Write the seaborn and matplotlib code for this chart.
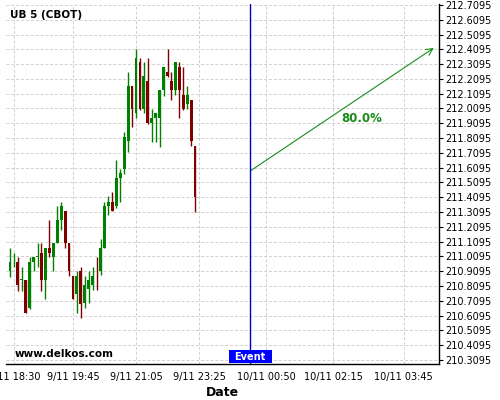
import numpy as np
import matplotlib
matplotlib.use("Agg")
import matplotlib.pyplot as plt
import matplotlib.transforms as mtransforms
from matplotlib.patches import Rectangle
import seaborn as sns

# 5 minute bars
opens = [210.913, 210.976, 210.972, 210.853, 210.850, 210.661, 210.972, 211.006,
         211.033, 210.853, 211.067, 211.008, 211.100, 211.256, 211.317, 211.100,
         210.877, 210.758, 210.911, 210.692, 210.787, 210.816, 210.920, 210.913,
         211.067, 211.350, 211.378, 211.350, 211.542, 211.601, 211.792, 212.162,
         211.982, 212.324, 212.009, 212.196, 211.914, 211.948, 211.948, 212.135,
         212.256, 212.196, 212.135, 212.290, 212.101, 212.042, 212.067, 211.756]
highs = [211.064, 211.035, 211.003, 210.940, 210.850, 211.003, 211.003, 211.098,
         211.098, 211.067, 211.256, 211.100, 211.350, 211.378, 211.317, 211.100,
         210.877, 210.911, 210.940, 210.877, 210.911, 210.940, 211.003, 211.125,
         211.378, 211.418, 211.445, 211.661, 211.598, 211.853, 212.259, 212.162,
         212.410, 212.349, 212.324, 212.349, 212.004, 211.979, 212.135, 212.290,
         212.410, 212.256, 212.324, 212.324, 212.290, 212.162, 212.067, 211.756]
lows = [210.873, 210.936, 210.778, 210.778, 210.625, 210.657, 210.913, 210.940,
        210.778, 210.719, 211.003, 210.911, 211.098, 211.188, 211.064, 210.877,
        210.719, 210.625, 210.591, 210.659, 210.692, 210.783, 210.783, 210.884,
        211.064, 211.290, 211.317, 211.340, 211.380, 211.567, 211.718, 211.882,
        211.943, 212.000, 211.977, 211.905, 211.786, 211.786, 211.752, 212.097,
        212.225, 212.067, 212.101, 211.943, 212.000, 212.009, 211.756, 211.312]
closes = [210.974, 210.981, 210.816, 210.857, 210.629, 210.972, 211.003, 211.010,
          210.853, 211.067, 211.033, 211.100, 211.256, 211.350, 211.100, 210.913,
          210.724, 210.877, 210.690, 210.816, 210.850, 210.877, 210.916, 211.067,
          211.350, 211.378, 211.317, 211.538, 211.571, 211.819, 212.162, 212.009,
          212.351, 212.009, 212.230, 211.912, 211.948, 211.979, 212.135, 212.290,
          212.230, 212.135, 212.324, 212.135, 212.009, 212.101, 211.792, 211.414]

tick_pos = [1, 16, 32, 48, 65, 82, 100]
tick_labels = ["9/11 18:30", "9/11 19:45", "9/11 21:05", "9/11 23:25",
               "10/11 00:50", "10/11 02:15", "10/11 03:45"]

event_idx = 61
arrow_start = (61, 211.587)
arrow_end = (107.6, 212.419)
prob_text = "80.0%"

sns.set_style("white")
plt.rcParams['font.family'] = ['DejaVu Sans']
plt.rcParams['text.color'] = 'black'
plt.rcParams['axes.labelcolor'] = 'black'
plt.rcParams['xtick.color'] = 'black'
plt.rcParams['ytick.color'] = 'black'

fig = plt.figure(figsize=(5, 4), dpi=100)
ax = fig.add_axes([0.012, 0.09, 0.8666, 0.90])

idx = np.arange(len(opens))
o = np.array(opens); c = np.array(closes)
up = c >= o
cols = np.where(up, "#008000", "#800000")

ax.vlines(idx, lows, highs, colors=cols, linewidth=1, zorder=3)
body = np.maximum(np.abs(c - o), 0.004)
ax.bar(idx, body, bottom=np.minimum(o, c), width=0.72, color=cols,
       linewidth=0, zorder=4)

# grid
yt = np.round(210.3095 + 0.1 * np.arange(25), 4)
ax.set_yticks(yt)
ax.set_yticklabels(["%.4f" % v for v in yt])
ax.set_xticks(tick_pos)
ax.set_xticklabels(tick_labels)
minor = []
for a, b in zip(tick_pos[:-1], tick_pos[1:]):
    minor += list(np.linspace(a, b, 5)[1:-1])
ax.set_xticks(minor, minor=True)
ax.grid(True, which="major", color="#d0d0d0", linestyle=(0, (3, 2)), linewidth=0.7)
ax.set_axisbelow(True)

ax.set_xlim(-1, 109)
ax.set_ylim(210.282, 212.716)

ax.yaxis.tick_right()
ax.tick_params(axis="y", labelsize=7, length=3, width=0.8, pad=1)
ax.tick_params(axis="x", which="major", labelsize=7, length=4, width=0.8, pad=2)
ax.tick_params(axis="x", which="minor", length=2, width=0.6)
for s in ["left", "top"]:
    ax.spines[s].set_visible(False)
for s in ["bottom", "right"]:
    ax.spines[s].set_color("black")
    ax.spines[s].set_linewidth(1)

ax.set_xlabel("Date", fontsize=9, fontweight="bold", labelpad=3)

# event marker
ax.axvline(event_idx, color="#0000cc", linewidth=1, zorder=5)
trans = mtransforms.blended_transform_factory(ax.transData, ax.transAxes)
ax.add_patch(Rectangle((event_idx - 5.45, 0.002), 10.9, 0.037, transform=trans,
                       facecolor="#0000ff", edgecolor="none", zorder=6))
ax.text(event_idx, 0.02, "Event", transform=trans, ha="center", va="center",
        color="white", fontsize=7, fontweight="bold", zorder=7)

# forecast arrow
ax.annotate("", xy=arrow_end, xytext=arrow_start,
            arrowprops=dict(arrowstyle="->", color="#1a8c1a", lw=0.8,
                            mutation_scale=12, shrinkA=0, shrinkB=0))
ax.text(89.3, 211.945, prob_text, color="#1a8c1a", fontsize=8.5,
        fontweight="bold", ha="center", va="center")

ax.text(0.009, 0.969, "UB 5 (CBOT)", transform=ax.transAxes, fontsize=7.5,
        fontweight="bold", va="center", ha="left")
ax.text(0.021, 0.028, "www.delkos.com", transform=ax.transAxes, fontsize=7.5,
        fontweight="bold", va="center", ha="left")

fig.savefig("out.png", dpi=100)
